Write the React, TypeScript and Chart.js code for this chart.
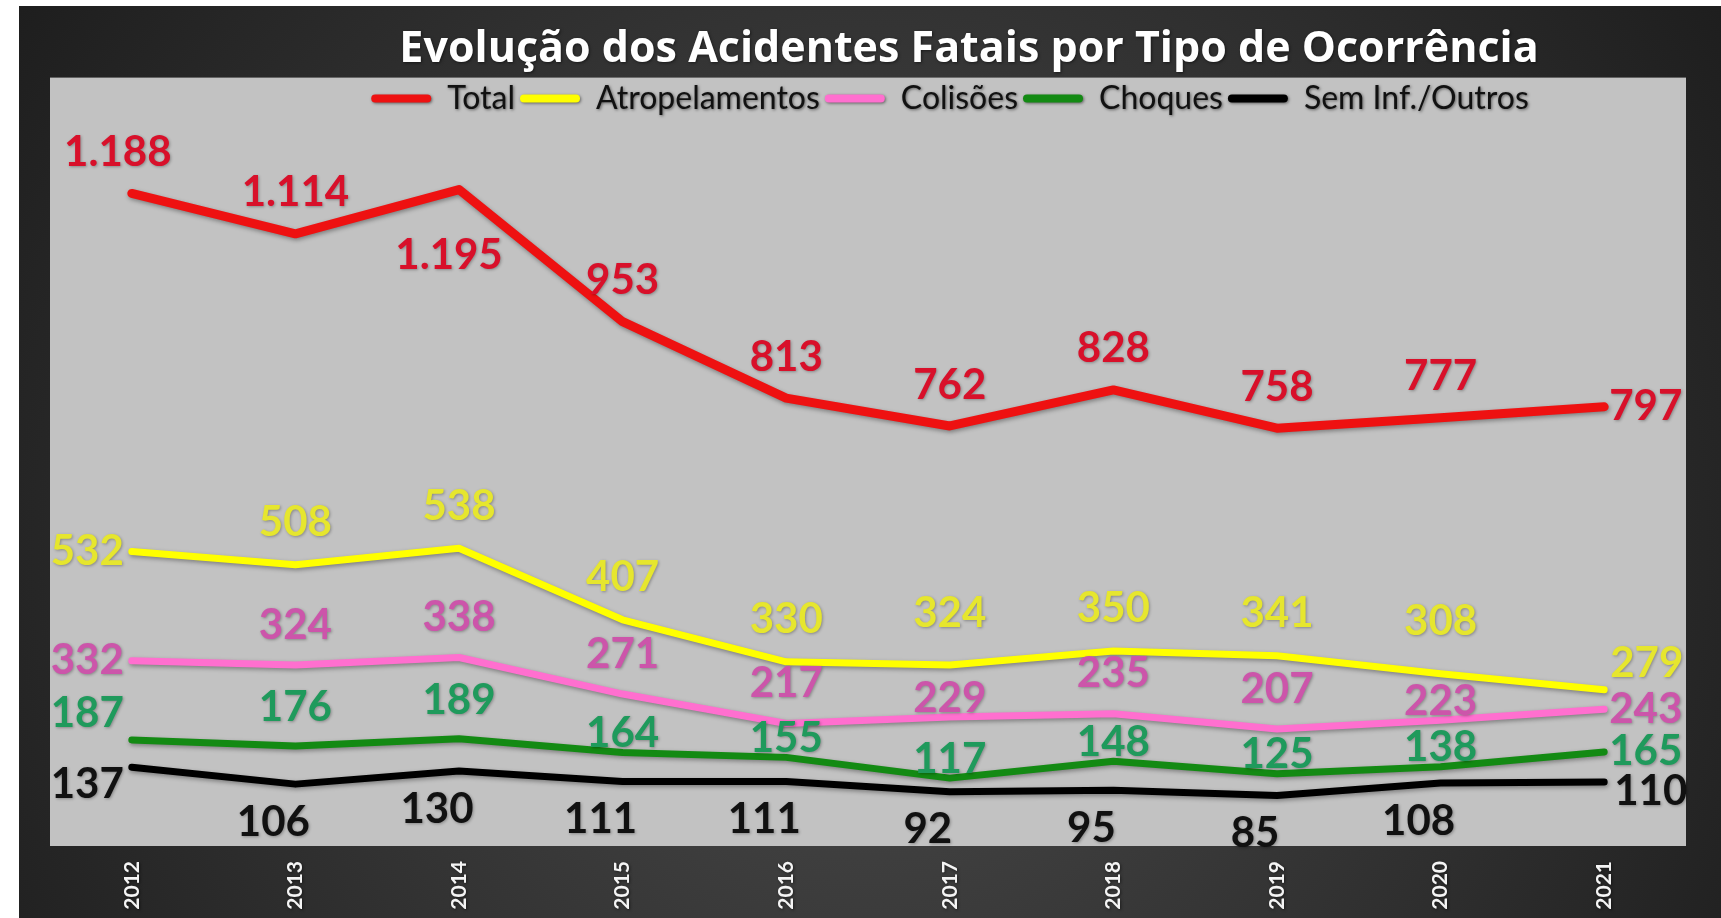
import React, { useEffect, useRef } from "react";
import { Chart, registerables } from "chart.js";

Chart.register(...registerables);

const years = ["2012", "2013", "2014", "2015", "2016", "2017", "2018", "2019", "2020", "2021"];
const total = [1188, 1114, 1195, 953, 813, 762, 828, 758, 777, 797];
const atropelamentos = [532, 508, 538, 407, 330, 324, 350, 341, 308, 279];
const colisoes = [332, 324, 338, 271, 217, 229, 235, 207, 223, 243];
const choques = [187, 176, 189, 164, 155, 117, 148, 125, 138, 165];
const semInf = [137, 106, 130, 111, 111, 92, 95, 85, 108, 110];
const seriesNames = ["Total", "Atropelamentos", "Colisões", "Choques", "Sem Inf./Outros"];
const titleText = "Evolução dos Acidentes Fatais por Tipo de Ocorrência";

const Y_MAX = 1314;

const lineColors = ["#ee1111", "#ffff00", "#ff6fcf", "#138a13", "#000000"];
const labelColors = ["#d8102a", "#e6e62e", "#cc55aa", "#1f9a5c", "#111111"];
const lineWidths = [9, 7, 7, 7, 7];
// label placement codes: t = above, tn = above (near), tf = above (far), b = below,
// l = left, r = right, tl/tr/bl/br = diagonal
const labelPos = [
  ["tL", "t", "b", "t", "t", "t", "t", "t", "t", "r"],
  ["l", "t", "t", "t", "t", "tf", "t", "t", "tf", "tr"],
  ["l", "t", "t", "t", "t", "tn", "t", "t", "tn", "r"],
  ["tl", "t", "t", "tn", "tn", "tn", "tn", "tn", "tn", "r"],
  ["bl", "b", "b", "b", "b", "b", "b", "b", "b", "br"],
];
const gapTop = [41, 42, 40, 38, 38];
const gapBottom = [66, 38, 38, 38, 38];
const bottomDx = [-10, 0, 0, 0, -22];

const fmt = (v: number) =>
  v >= 1000 ? `${Math.floor(v / 1000)}.${String(v % 1000).padStart(3, "0")}` : String(v);

const decorPlugin = {
  id: "decor",
  afterLayout(chart: any) {
    const t = chart.titleBlock;
    if (t) {
      t.left += 101;
      t.right += 101;
    }
    const l = chart.legend;
    if (l) {
      l.left += 82;
      l.right += 82;
    }
  },
  beforeDraw(chart: any) {
    const { ctx, width, height, chartArea, legend } = chart;
    ctx.save();
    const g = ctx.createRadialGradient(width / 2, height * 0.6, 40, width / 2, height * 0.6, width * 0.62);
    g.addColorStop(0, "#4a4a4a");
    g.addColorStop(1, "#1c1c1c");
    ctx.fillStyle = g;
    ctx.fillRect(0, 0, width, height);
    const top = legend.top;
    ctx.fillStyle = "#c2c2c2";
    ctx.fillRect(chartArea.left, top, chartArea.right - chartArea.left, chartArea.bottom + 4 - top);
    ctx.restore();
    ctx.shadowColor = "rgba(0,0,0,0.5)";
    ctx.shadowBlur = 3;
    ctx.shadowOffsetX = 1;
    ctx.shadowOffsetY = 1;
  },
  beforeDatasetsDraw(chart: any) {
    const ctx = chart.ctx;
    ctx.shadowColor = "rgba(0,0,0,0)";
    ctx.shadowBlur = 0;
    ctx.shadowOffsetX = 0;
    ctx.shadowOffsetY = 0;
  },
  beforeDatasetDraw(chart: any) {
    const ctx = chart.ctx;
    ctx.save();
    ctx.shadowColor = "rgba(0,0,0,0.35)";
    ctx.shadowBlur = 4;
    ctx.shadowOffsetX = 1;
    ctx.shadowOffsetY = 2;
  },
  afterDatasetDraw(chart: any) {
    chart.ctx.restore();
  },
  afterDatasetsDraw(chart: any) {
    const ctx = chart.ctx;
    chart.data.datasets.forEach((ds: any, i: number) => {
      const meta = chart.getDatasetMeta(i);
      ctx.save();
      ctx.font = "bold 42px Lato";
      ctx.fillStyle = labelColors[i];
      ctx.shadowColor = "rgba(0,0,0,0.3)";
      ctx.shadowBlur = 3;
      ctx.shadowOffsetX = 1;
      ctx.shadowOffsetY = 1;
      ctx.textBaseline = "middle";
      meta.data.forEach((pt: any, j: number) => {
        const text = fmt(ds.data[j]);
        const p = labelPos[i][j];
        let x = pt.x;
        let y = pt.y;
        let align: CanvasTextAlign = "center";
        if (p === "t") y -= gapTop[i];
        else if (p === "tL") { y -= gapTop[i]; x -= 14; }
        else if (p === "tn") y -= 19;
        else if (p === "tf") y -= 52;
        else if (p === "b") { y += gapBottom[i]; x += bottomDx[i]; }
        else if (p === "l") { x -= 8; align = "right"; }
        else if (p === "r") { x += 5; align = "left"; }
        else if (p === "tl") { x -= 8; y -= 26; align = "right"; }
        else if (p === "tr") { x += 6; y -= 26; align = "left"; }
        else if (p === "bl") { x -= 8; y += 17; align = "right"; }
        else if (p === "br") { x += 10; y += 10; align = "left"; }
        ctx.textAlign = align;
        ctx.fillText(text, x, y);
      });
      ctx.restore();
    });
  },
};

export default function App() {
  const ref = useRef<HTMLCanvasElement | null>(null);
  useEffect(() => {
    if (!ref.current) return;
    Chart.defaults.font.family = "Lato";
    const seriesData = [total, atropelamentos, colisoes, choques, semInf];
    const chart = new Chart(ref.current, {
      type: "line",
      data: {
        labels: years,
        datasets: seriesData.map((d, i) => ({
          label: seriesNames[i],
          data: d,
          borderColor: lineColors[i],
          backgroundColor: lineColors[i],
          borderWidth: lineWidths[i],
          pointRadius: 0,
          tension: 0,
          fill: false,
          borderJoinStyle: "round" as const,
          borderCapStyle: "round" as const,
        })),
      },
      options: {
        animation: false,
        responsive: true,
        maintainAspectRatio: false,
        layout: { padding: { left: 31, right: 35, top: 0, bottom: 0 } },
        plugins: {
          title: {
            display: true,
            text: titleText,
            color: "#ffffff",
            font: { size: 43, weight: "bold", family: "'Open Sans'" },
            padding: { top: 18, bottom: 2 },
          },
          legend: {
            display: true,
            position: "top",
            labels: {
              color: "#111111",
              font: { size: 32, family: "Lato" },
              boxWidth: 60,
              boxHeight: 8,
              padding: 5,
              useBorderRadius: true,
              borderRadius: 4,
              generateLabels: (c: any) =>
                (Chart.defaults.plugins.legend.labels as any)
                  .generateLabels(c)
                  .map((l: any) => ({ ...l, lineWidth: 0 })),
            },
          },
          tooltip: { enabled: false },
        },
        scales: {
          x: {
            offset: true,
            grid: { display: false, drawTicks: false },
            border: { display: false },
            ticks: {
              color: "#f4f4f4",
              font: { size: 21, weight: "bold", family: "Lato" },
              minRotation: 90,
              maxRotation: 90,
              padding: 19,
            },
            afterFit: (scale: any) => {
              scale.height = 76;
            },
          },
          y: {
            display: false,
            min: 0,
            max: Y_MAX,
          },
        },
      },
      plugins: [decorPlugin],
    });
    return () => chart.destroy();
  }, []);
  return (
    <div style={{ position: "absolute", left: 19, top: 6, width: 1702, height: 912 }}>
      <canvas ref={ref} />
    </div>
  );
}
